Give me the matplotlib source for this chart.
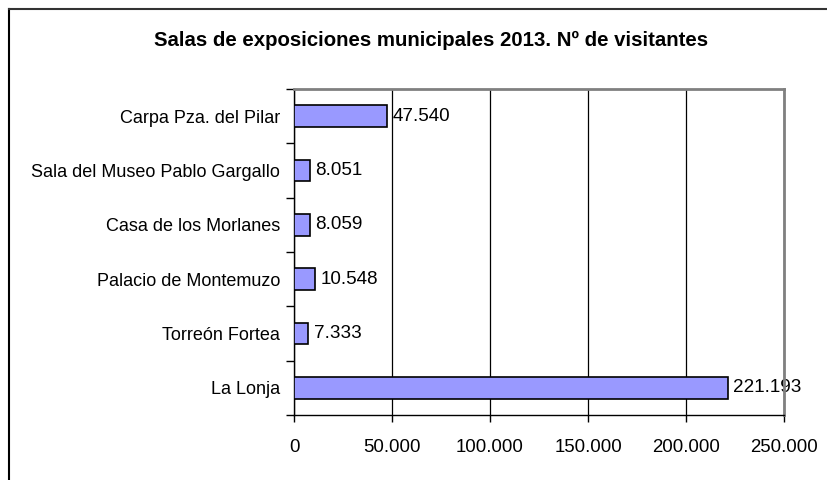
import matplotlib
matplotlib.use("Agg")
import matplotlib.pyplot as plt
from matplotlib.lines import Line2D
from matplotlib.ticker import FuncFormatter, MultipleLocator, FixedLocator

categories = ["La Lonja", "Torreón Fortea", "Palacio de Montemuzo",
              "Casa de los Morlanes", "Sala del Museo Pablo Gargallo",
              "Carpa Pza. del Pilar"]
values = [221193, 7333, 10548, 8059, 8051, 47540]
title = "Salas de exposiciones municipales 2013. Nº de visitantes"

plt.rcParams['font.family'] = ['Liberation Sans', 'DejaVu Sans']

def fmt(v):
    return f"{int(round(v)):,}".replace(",", ".")

fig = plt.figure(figsize=(8.28, 4.8), dpi=100)
ax = fig.add_axes([294/828, 1-415/480, 490/828, 326/480])

ypos = list(range(len(categories)))
ax.barh(ypos, values, height=0.4, color="#9999FF", edgecolor="black",
        linewidth=1.2, zorder=3)
for y, v in zip(ypos, values):
    ax.text(v + 2800, y, fmt(v), va="center", ha="left", fontsize=13.6,
            zorder=2)

ax.set_xlim(0, 250000)
ax.set_ylim(-0.5, len(categories) - 0.5)
ax.xaxis.set_major_locator(MultipleLocator(50000))
ax.xaxis.set_major_formatter(FuncFormatter(lambda v, p: fmt(v)))
ax.set_yticks(ypos)
ax.set_yticklabels(categories)
ax.yaxis.set_minor_locator(FixedLocator([i - 0.5 for i in range(len(categories) + 1)]))
ax.tick_params(axis="y", which="major", length=0, pad=10, labelsize=13)
ax.tick_params(axis="y", which="minor", length=6, width=1, color="black", direction="out")
ax.tick_params(axis="x", which="major", length=5, width=1, color="black",
               direction="out", pad=12, labelsize=13.4)
ax.grid(axis="x", color="black", linewidth=0.9, zorder=1)
ax.set_axisbelow(True)

for side in ["left", "bottom"]:
    ax.spines[side].set_color("black")
    ax.spines[side].set_linewidth(1.0)
for side in ["top", "right"]:
    ax.spines[side].set_color("#808080")
    ax.spines[side].set_linewidth(2.0)

fig.text(431/828, 1-40/480, title, ha="center", va="center",
         fontsize=14.7, fontweight="bold")

fig.add_artist(Line2D([8.5/828, 8.5/828], [0, 1-9/480], transform=fig.transFigure,
                      color="black", linewidth=1.5))
fig.add_artist(Line2D([8.5/828, 1], [1-9/480, 1-9/480], transform=fig.transFigure,
                      color="#333333", linewidth=1.5))

fig.savefig("out.png", dpi=100)
